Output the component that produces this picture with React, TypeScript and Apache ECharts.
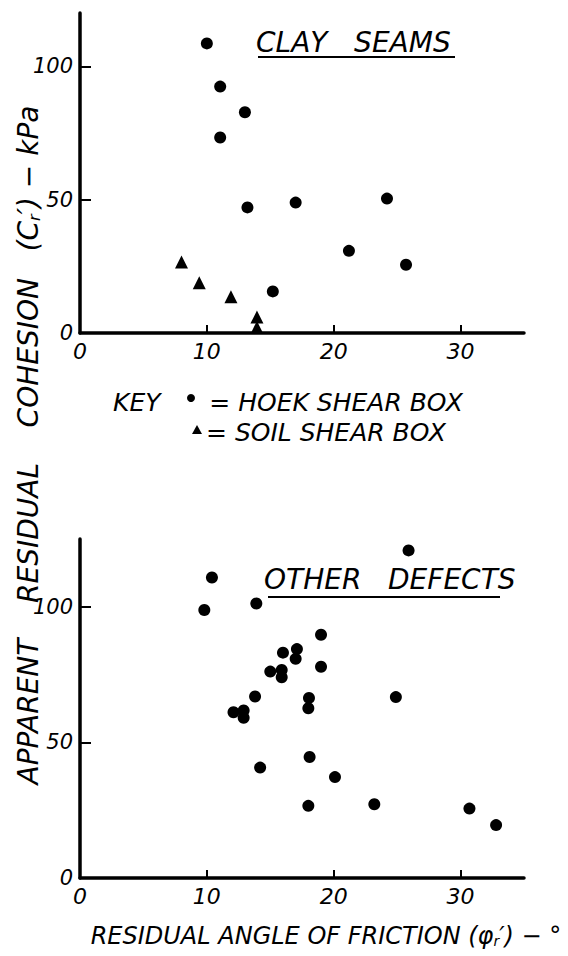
import React, { useEffect, useRef } from 'react';
import * as echarts from 'echarts';

// Clay seams – Hoek shear box (circles)
const hoekX = [10.0, 11.05, 13.0, 11.05, 13.2, 17.0, 24.2, 21.2, 25.7, 15.2];
const hoekY = [108.6, 92.4, 82.8, 73.3, 47.1, 48.9, 50.4, 30.8, 25.6, 15.6];
// Clay seams – soil shear box (triangles)
const soilX = [8.0, 9.4, 11.9, 13.95, 13.95];
const soilY = [26.6, 18.8, 13.6, 6.0, 2.1];
// Other defects (circles)
const otherX = [10.4, 9.8, 13.9, 25.9, 19.0, 16.0, 17.1, 17.0, 19.0, 15.0, 15.9, 15.9, 13.8, 18.05, 18.0, 24.9, 12.1, 12.9, 12.9, 18.1, 14.2, 20.1, 18.0, 23.2, 30.7, 32.8];
const otherY = [110.8, 98.8, 101.2, 120.8, 89.7, 83.1, 84.4, 80.8, 77.9, 76.1, 76.7, 74.0, 66.9, 66.4, 62.6, 66.7, 61.1, 61.8, 59.1, 44.6, 40.7, 37.2, 26.6, 27.2, 25.6, 19.5];

const xTickLabels = [0, 10, 20, 30];
const yTickLabels = [0, 50, 100];

const FONT = '"DejaVu Sans", sans-serif';
const INK = '#000';

const zip = (xs: number[], ys: number[]) => xs.map((x, i) => [x, ys[i]]);

const xAxisCfg = (gridIndex: number) => ({
  type: 'value',
  gridIndex,
  min: 0,
  max: 35,
  interval: 10,
  axisLine: { show: true, onZero: false, lineStyle: { color: INK, width: 3.5 } },
  axisTick: { show: true, inside: true, length: 8, lineStyle: { color: INK, width: 2 }, customValues: [10, 20, 30] },
  axisLabel: { customValues: xTickLabels, margin: 7, fontSize: 22, fontStyle: 'italic', color: INK, fontFamily: FONT },
  splitLine: { show: false },
});

const yAxisCfg = (gridIndex: number, max: number) => ({
  type: 'value',
  gridIndex,
  min: 0,
  max,
  interval: 50,
  axisLine: { show: true, onZero: false, lineStyle: { color: INK, width: 3.5 } },
  axisTick: { show: true, inside: true, length: 11, lineStyle: { color: INK, width: 2 }, customValues: [50, 100] },
  axisLabel: { customValues: yTickLabels, margin: 7, fontSize: 21, fontStyle: 'italic', color: INK, fontFamily: FONT },
  splitLine: { show: false },
});

const txt = (x: number, y: number, text: string, size: number, align = 'left') => ({
  type: 'text',
  x,
  y,
  style: { text, fontSize: size, fontStyle: 'italic', fontFamily: FONT, fill: INK, textAlign: align, textVerticalAlign: 'middle' },
});

export default function App() {
  const ref = useRef<HTMLDivElement>(null);
  useEffect(() => {
    document.body.style.margin = '0';
    const chart = echarts.init(ref.current!, null, { renderer: 'svg' });
    const option = {
      animation: false,
      backgroundColor: '#fff',
      grid: [
        { left: 80, right: 44, top: 13, bottom: 623 },
        { left: 80, right: 44, top: 539, bottom: 78 },
      ],
      xAxis: [xAxisCfg(0), xAxisCfg(1)],
      yAxis: [yAxisCfg(0, 120), yAxisCfg(1, 125)],
      series: [
        { type: 'scatter', xAxisIndex: 0, yAxisIndex: 0, symbol: 'circle', symbolSize: 12, itemStyle: { color: INK, opacity: 1 }, data: zip(hoekX, hoekY) },
        { type: 'scatter', xAxisIndex: 0, yAxisIndex: 0, symbol: 'triangle', symbolSize: 13, itemStyle: { color: INK, opacity: 1 }, data: zip(soilX, soilY) },
        { type: 'scatter', xAxisIndex: 1, yAxisIndex: 1, symbol: 'circle', symbolSize: 12, itemStyle: { color: INK, opacity: 1 }, data: zip(otherX, otherY) },
      ],
      graphic: [
        txt(256, 42, 'CLAY   SEAMS', 28),
        { type: 'line', shape: { x1: 258, y1: 57, x2: 455, y2: 57 }, style: { stroke: INK, lineWidth: 2 } },
        txt(264, 579, 'OTHER   DEFECTS', 28),
        { type: 'line', shape: { x1: 268, y1: 597, x2: 500, y2: 597 }, style: { stroke: INK, lineWidth: 2 } },
        txt(113, 402, 'KEY', 25),
        { type: 'circle', shape: { cx: 191, cy: 398, r: 4 }, style: { fill: INK } },
        txt(463, 402, '= HOEK SHEAR BOX', 25, 'right'),
        { type: 'polygon', shape: { points: [[197, 425], [192, 434], [202, 434]] }, style: { fill: INK } },
        txt(206, 432, '= SOIL SHEAR BOX', 25),
        {
          type: 'text',
          x: 28,
          y: 445,
          rotation: Math.PI / 2,
          style: {
            text: '{a|APPARENT    RESIDUAL    COHESION   (C}{b|r}{a|\u2032) \u2212 kPa}',
            textAlign: 'center',
            textVerticalAlign: 'middle',
            fill: INK,
            rich: {
              a: { fontSize: 28, fontStyle: 'italic', fontFamily: FONT, fill: INK },
              b: { fontSize: 16, fontStyle: 'italic', fontFamily: FONT, fill: INK, padding: [12, 0, 0, 0] },
            },
          },
        },
        {
          type: 'text',
          x: 326,
          y: 936,
          style: {
            text: '{a|RESIDUAL ANGLE OF FRICTION (\u03c6}{b|r}{a|\u2032) \u2212 \u00b0}',
            textAlign: 'center',
            textVerticalAlign: 'middle',
            fill: INK,
            rich: {
              a: { fontSize: 24, fontStyle: 'italic', fontFamily: FONT, fill: INK },
              b: { fontSize: 14, fontStyle: 'italic', fontFamily: FONT, fill: INK, padding: [10, 0, 0, 0] },
            },
          },
        },
      ],
    };
    chart.setOption(option as any);
    return () => chart.dispose();
  }, []);
  return <div ref={ref} style={{ width: 568, height: 956 }} />;
}
